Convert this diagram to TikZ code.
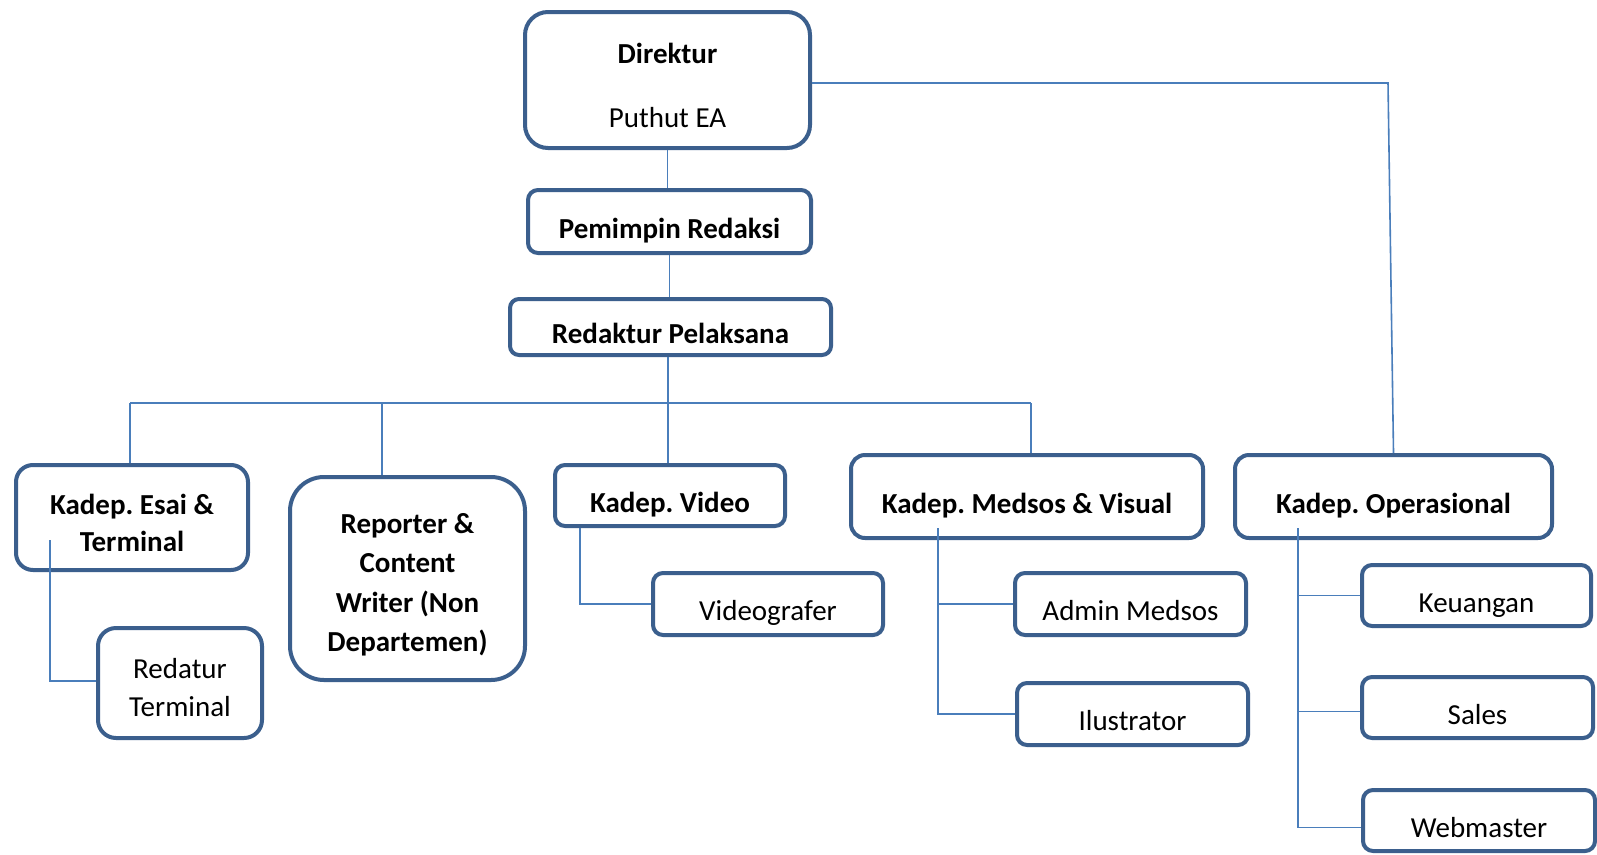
\documentclass[tikz,border=0pt]{standalone}
\usepackage{fontspec}
\setmainfont{Carlito}
\frenchspacing
\definecolor{boxc}{HTML}{3B5F8D}
\definecolor{linec}{HTML}{4A7EBB}
\newcommand{\firstline}[1]{\rule{0pt}{#1}}
\begin{document}
\begin{tikzpicture}[x=1pt,y=-1pt,
  box/.style={draw=boxc, line width=4pt, fill=white, inner sep=0pt, align=center,
    font=\fontsize{29}{37}\selectfont},
  bbox/.style={box, font=\fontsize{29}{37}\selectfont\bfseries},
  one/.style={text height=40pt, text depth=7pt},
  conn/.style={draw=linec, line width=1.6pt}]
\fill[white] (0,0) rectangle (1597,854);
\useasboundingbox (0,0) rectangle (1597,854);

% boxes
\node[box, minimum width=285pt, minimum height=136pt, rounded corners=23pt] (dir) at (667.5,80)
  {\firstline{32pt}\bfseries Direktur\\[27pt]Puthut EA};
\node[bbox, one, minimum width=283pt, minimum height=63pt, rounded corners=10pt] (pem) at (669.5,221.5) {Pemimpin Redaksi};
\node[bbox, one, minimum width=321pt, minimum height=56pt, rounded corners=9pt] (red) at (670.5,327) {Redaktur Pelaksana};
\node[bbox, minimum width=232pt, minimum height=105pt, rounded corners=17pt] (esai) at (132,517.5) {\firstline{32pt}Kadep. Esai \&\\Terminal};
\node[bbox, font=\fontsize{29}{39.5}\selectfont\bfseries, minimum width=235pt, minimum height=203pt, rounded corners=34pt] (rep) at (407.5,578.5)
  {\firstline{32.5pt}Reporter \&\\Content\\Writer (Non\\Departemen)};
\node[bbox, one, minimum width=230pt, minimum height=61pt, rounded corners=10pt] (video) at (670,495.5) {Kadep. Video};
\node[bbox, one, minimum width=352pt, minimum height=83pt, rounded corners=14pt] (medsos) at (1027,496.5) {Kadep. Medsos \& Visual};
\node[bbox, one, minimum width=317pt, minimum height=83pt, rounded corners=14pt] (oper) at (1393.5,496.5) {Kadep. Operasional};
\node[box, font=\fontsize{29}{38}\selectfont, minimum width=164pt, minimum height=110pt, rounded corners=18pt] (redatur) at (180,683) {\firstline{30pt}Redatur\\Terminal};
\node[box, one, minimum width=230pt, minimum height=62pt, rounded corners=10pt] (vgraf) at (768,604) {Videografer};
\node[box, one, minimum width=231pt, minimum height=62pt, rounded corners=10pt] (admin) at (1130.5,604) {Admin Medsos};
\node[box, one, minimum width=231pt, minimum height=62pt, rounded corners=10pt] (ilus) at (1132.5,714) {Ilustrator};
\node[box, one, minimum width=229pt, minimum height=61pt, rounded corners=10pt] (keu) at (1476.5,595.5) {Keuangan};
\node[box, one, minimum width=231pt, minimum height=61pt, rounded corners=10pt] (sales) at (1477.5,707.5) {Sales};
\node[box, one, minimum width=232pt, minimum height=61pt, rounded corners=10pt] (web) at (1479,820.5) {Webmaster};

% connector points
\coordinate (hub) at (668,403);
\coordinate (barL) at (130,403);
\coordinate (barR) at (1031,403);
\coordinate (repTop) at (382,403);
\coordinate (opC) at (1388,83);
\coordinate (esaiIn) at (50,540);
\coordinate (videoIn) at (580,528);
\coordinate (medIn) at (938,528);
\coordinate (opIn) at (1298,528);

% connectors
\draw[conn] (dir.south) -- (dir.south |- pem.north);
\draw[conn] (pem.south) -- (pem.south |- red.north);
\draw[conn] (hub |- red.south) -- (hub |- video.north);
\draw[conn] (barL) -- (barR);
\draw[conn] (barL) -- (barL |- esai.north);
\draw[conn] (repTop) -- (repTop |- rep.north);
\draw[conn] (barR) -- (barR |- medsos.north);
\draw[conn] ([yshift=-3pt]dir.east) -- (opC) -- (oper.north);
\draw[conn] (esaiIn) |- ([yshift=2pt]redatur.west);
\draw[conn] (videoIn) |- (vgraf.west);
\draw[conn] (medIn) |- (admin.west);
\draw[conn] (medIn) |- (ilus.west);
\draw[conn] (opIn) |- (keu.west);
\draw[conn] (opIn) |- ([yshift=-4pt]sales.west);
\draw[conn] (opIn) |- ([yshift=-7pt]web.west);
\end{tikzpicture}
\end{document}
